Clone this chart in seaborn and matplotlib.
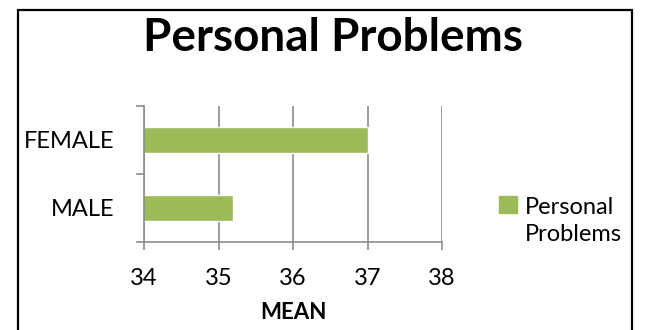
import matplotlib
matplotlib.use("Agg")
import matplotlib.pyplot as plt
import matplotlib.patches as mpatches
import seaborn as sns
import pandas as pd

# Mean scores by gender
genders = ["FEMALE", "MALE"]
means = [37.0, 35.2]
series_name = "Personal Problems"
x_ticks = [34, 35, 36, 37, 38]

sns.set_theme(style="white")
plt.rcParams["font.family"] = ["Lato", "DejaVu Sans"]

df = pd.DataFrame({"gender": genders, "mean": means})

fig = plt.figure(figsize=(6.46, 3.30), dpi=100)
ax = fig.add_axes([144 / 646, 1 - 242 / 330, (442 - 144) / 646, (242 - 106) / 330])

green = "#9BBB59"
sns.barplot(data=df, y="gender", x="mean", orient="h", color=green,
            width=0.38, ax=ax, saturation=1)

tick_fs = 17
ax.set_xlim(x_ticks[0], x_ticks[-1])
ax.set_ylim(1.5, -0.5)
ax.set_xticks(x_ticks)
ax.set_xticklabels([str(t) for t in x_ticks], fontsize=tick_fs)
ax.set_yticks([0, 1])
ax.set_yticklabels(genders, fontsize=tick_fs)
ax.set_yticks([-0.5, 0.5, 1.5], minor=True)

ax.grid(axis="x", color="#8c8c8c", linewidth=1.2)
ax.set_axisbelow(True)
for side in ["top", "right"]:
    ax.spines[side].set_visible(False)
for side in ["left", "bottom"]:
    ax.spines[side].set_color("#8c8c8c")
    ax.spines[side].set_linewidth(1.2)

ax.tick_params(axis="y", which="major", length=0, pad=21)
ax.tick_params(axis="y", which="minor", length=6, width=1.2, color="#8c8c8c", left=True)
ax.tick_params(axis="x", which="major", length=6, width=1.2, color="#8c8c8c",
               bottom=True, pad=13)
for lbl in ax.get_xticklabels() + ax.get_yticklabels():
    lbl.set_color("black")

ax.set_ylabel("")
ax.set_xlabel("MEAN", fontsize=16, fontweight="bold", labelpad=9, color="black")

fig.text(333 / 646, 1 - 38 / 330, series_name, ha="center", va="center",
         fontsize=33, fontweight="bold", color="black")

handle = mpatches.Patch(color=green, label="Personal\nProblems")
leg = fig.legend(handles=[handle], loc="center left",
                 bbox_to_anchor=(478 / 646, 1 - 221 / 330), frameon=False,
                 fontsize=tick_fs, handlelength=0.75, handleheight=0.75,
                 handletextpad=0.35, labelspacing=0.1)
for txt in leg.get_texts():
    txt.set_color("black")
    txt.set_linespacing(1.3)
# Align the legend swatch with the first line of its label
sw = leg.legend_handles[0]
sw.set_y(sw.get_y() + tick_fs * 0.7)

# Outer frame
fig.patches.append(mpatches.Rectangle((18 / 646, -0.1), (632 - 18) / 646, 1.1 - 10 / 330,
                                      transform=fig.transFigure, fill=False,
                                      edgecolor="black", linewidth=1.6))

fig.savefig("out.png", dpi=100)
